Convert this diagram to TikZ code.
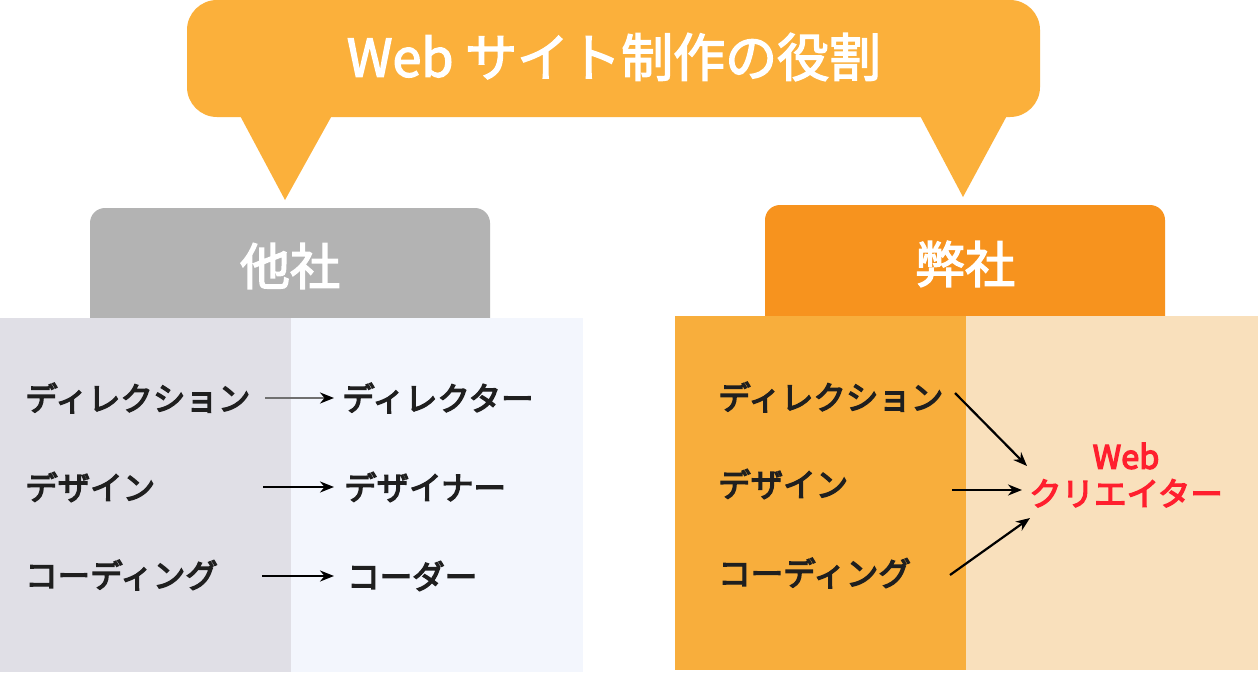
\documentclass[tikz,border=0pt]{standalone}
\usepackage{fontspec}
\setmainfont{Noto Sans CJK JP}
\newcommand\heavytext[3]{\special{pdf:literal direct #1 RG 2 Tr #2 w}#3\special{pdf:literal direct 0 Tr}}
\usetikzlibrary{arrows.meta}
\definecolor{callout}{HTML}{FBB03B}
\definecolor{grayhead}{HTML}{B3B3B3}
\definecolor{grayL}{HTML}{E0DFE6}
\definecolor{grayR}{HTML}{F3F6FD}
\definecolor{orghead}{HTML}{F7931E}
\definecolor{orgL}{HTML}{F8AE3C}
\definecolor{orgR}{HTML}{F9E0BC}
\definecolor{redtxt}{HTML}{FF1F2E}
\definecolor{grayline}{HTML}{707070}
\newcommand\blk[1]{\heavytext{0.12 0.12 0.12}{1.3}{#1}}
\newcommand\wht[1]{\heavytext{1 1 1}{1.4}{#1}}
\newcommand\rd[1]{\heavytext{1 0.12 0.18}{1.3}{#1}}
\tikzset{
  lbl/.style={inner sep=0pt, anchor=west, font=\fontsize{32.5}{38}\selectfont, text=black!88},
  headtxt/.style={inner sep=0pt, font=\fontsize{50}{58}\selectfont, text=white},
  arr/.style={line width=2.2pt, -{Stealth[length=14pt,width=11pt]}},
}
\begin{document}
\begin{tikzpicture}[x=1pt,y=-1pt]
\useasboundingbox (0,0) rectangle (1258,672);
\fill[white] (0,0) rectangle (1258,672);
% callout
\fill[callout, rounded corners=30pt] (187,0) rectangle (1040,117);
\fill[callout] (237,110) -- (335,110) -- (285,200) -- cycle;
\fill[callout] (917,110) -- (1010,110) -- (963,197) -- cycle;
\node[headtxt, font=\fontsize{52}{60}\selectfont] (title) at (614,57) {\wht{Web サイト制作の役割}};
% left side
\fill[grayhead, rounded corners=15pt] (90,208) rectangle (490,340);
\fill[grayL] (0,318) rectangle (291,672);
\fill[grayR] (291,318) rectangle (583,672);
\node[headtxt] (tasha) at (290,266) {\wht{他社}};
\node[lbl] (ld) at (25,398) {\blk{ディレクション}};
\node[lbl] (lds) at (25,487) {\blk{デザイン}};
\node[lbl] (lc) at (25,575) {\blk{コーディング}};
\node[lbl] (rd) at (342,398) {\blk{ディレクター}};
\node[lbl] (rds) at (344,487) {\blk{デザイナー}};
\node[lbl] (rc) at (347,576) {\blk{コーダー}};
\coordinate (s1) at (265,398);
\coordinate (s2) at (263,487);
\coordinate (s3) at (262,576);
\draw[line width=2.2pt, grayline, -{Stealth[length=14pt,width=11pt,color=black]}] (s1) -- ([xshift=-8pt]rd.west);
\draw[arr] (s2) -- ([xshift=-10pt]rds.west);
\draw[arr] (s3) -- ([xshift=-13pt]rc.west);
% right side
\fill[orghead, rounded corners=15pt] (765,205) rectangle (1165,340);
\fill[orgL] (675,316) rectangle (966,670);
\fill[orgR] (966,316) rectangle (1258,670);
\node[headtxt] (heisha) at (965,264) {\wht{弊社}};
\node[lbl] (od) at (718,397) {\blk{ディレクション}};
\node[lbl] (ods) at (718,484) {\blk{デザイン}};
\node[lbl] (oc) at (718,573) {\blk{コーディング}};
\node[inner sep=0pt, align=center, font=\fontsize{32.5}{37}\selectfont, text=redtxt] (creator) at (1126,475) {\rd{Web}\\\rd{クリエイター}};
\coordinate (t1) at (955,393);
\coordinate (t2) at (952,490);
\coordinate (t3) at (950,575);
\coordinate (e1) at (1027,466);
\coordinate (e2) at (1022,490);
\coordinate (e3) at (1030,518);
\draw[arr] (t1) -- (e1);
\draw[arr] (t2) -- (e2);
\draw[arr] (t3) -- (e3);
\end{tikzpicture}
\end{document}
